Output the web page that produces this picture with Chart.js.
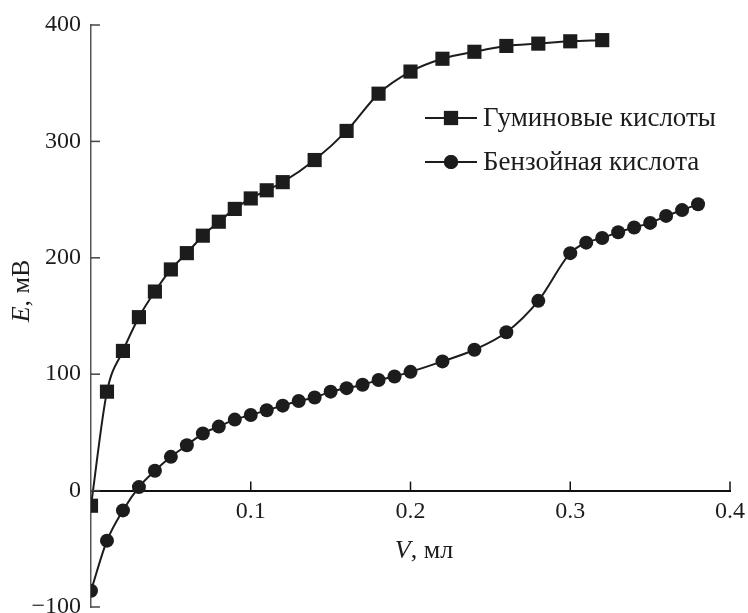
<!DOCTYPE html>
<html>
<head>
<meta charset="utf-8">
<script src="https://cdn.jsdelivr.net/npm/chart.js@4.4.1/dist/chart.umd.min.js"></script>
<style>
  html, body { margin: 0; padding: 0; background: #fff; overflow: hidden; }
  #wrap { width: 748px; height: 617px; }
</style>
</head>
<body>
<div id="wrap"><canvas id="chart"></canvas></div>
<script>
// Гуминовые кислоты
const humicV = [0, 0.01, 0.02, 0.03, 0.04, 0.05, 0.06, 0.07, 0.08, 0.09, 0.10, 0.11, 0.12,
  0.14, 0.16, 0.18, 0.20, 0.22, 0.24, 0.26, 0.28, 0.30, 0.32];
const humicE = [-13, 85, 120, 149, 171, 190, 204, 219, 231, 242, 251, 258, 265,
  284, 309, 341, 360, 371, 377, 382, 384, 386, 387];

// Бензойная кислота
const benzoicV = [0, 0.01, 0.02, 0.03, 0.04, 0.05, 0.06, 0.07, 0.08, 0.09, 0.10, 0.11, 0.12,
  0.13, 0.14, 0.15, 0.16, 0.17, 0.18, 0.19, 0.20, 0.22, 0.24, 0.26, 0.28, 0.30,
  0.31, 0.32, 0.33, 0.34, 0.35, 0.36, 0.37, 0.38];
const benzoicE = [-86, -43, -17, 3, 17, 29, 39, 49, 55, 61, 65, 69, 73,
  77, 80, 85, 88, 91, 95, 98, 102, 111, 121, 136, 163, 204,
  213, 217, 222, 226, 230, 236, 241, 246];

const seriesNames = ["Гуминовые кислоты", "Бензойная кислота"];
const xTicks = [0.1, 0.2, 0.3, 0.4];
const yTicks = [-100, 0, 100, 200, 300, 400];

const serif = "'Liberation Serif', 'DejaVu Serif', serif";
const ink = "#1c1c1c";

function toPoints(xs, ys) {
  return xs.map((x, i) => ({ x, y: ys[i] }));
}

// inward tick marks, legend and axis titles
const decorPlugin = {
  id: "decor",
  afterDraw(chart) {
    const ctx = chart.ctx;
    const xs = chart.scales.x;
    const ys = chart.scales.y;
    const y0 = ys.getPixelForValue(0);
    const left = xs.getPixelForValue(0);

    ctx.save();
    ctx.strokeStyle = "#444";
    ctx.lineWidth = 1.5;
    yTicks.forEach(v => {
      const py = ys.getPixelForValue(v);
      ctx.beginPath();
      ctx.moveTo(left, py);
      ctx.lineTo(left + 9, py);
      ctx.stroke();
    });
    ctx.strokeStyle = "#111";
    xTicks.forEach(v => {
      const px = xs.getPixelForValue(v);
      ctx.beginPath();
      ctx.moveTo(px, y0);
      ctx.lineTo(px, y0 - 9);
      ctx.stroke();
    });

    // legend
    const legendX = 425;
    const legendY = [118, 162];
    chart.data.datasets.forEach((ds, i) => {
      const ly = legendY[i];
      ctx.strokeStyle = ds.borderColor;
      ctx.lineWidth = ds.borderWidth;
      ctx.beginPath();
      ctx.moveTo(legendX, ly);
      ctx.lineTo(legendX + 52, ly);
      ctx.stroke();
      ctx.fillStyle = ds.pointBackgroundColor;
      Chart.helpers.drawPoint(ctx, {
        pointStyle: ds.pointStyle,
        radius: ds.pointRadius,
        borderWidth: 0
      }, legendX + 26, ly);
      ctx.fill();
      ctx.fillStyle = ink;
      ctx.font = "27px " + serif;
      ctx.textAlign = "left";
      ctx.textBaseline = "middle";
      ctx.fillText(ds.label, legendX + 58, ly + 1);
    });

    // axis titles with italic variable letters
    function mixed(parts, cx, cy, rotate) {
      ctx.save();
      ctx.translate(cx, cy);
      if (rotate) ctx.rotate(-Math.PI / 2);
      let total = 0;
      parts.forEach(p => {
        ctx.font = p.f;
        total += ctx.measureText(p.t).width;
      });
      let x = -total / 2;
      ctx.textAlign = "left";
      ctx.textBaseline = "middle";
      ctx.fillStyle = ink;
      parts.forEach(p => {
        ctx.font = p.f;
        ctx.fillText(p.t, x, 0);
        x += ctx.measureText(p.t).width;
      });
      ctx.restore();
    }
    mixed([
      { t: "V", f: "italic 26px " + serif },
      { t: ", мл", f: "26px " + serif }
    ], 424, 551, false);
    mixed([
      { t: "E", f: "italic 26px " + serif },
      { t: ", мВ", f: "26px " + serif }
    ], 22, 291, true);
    ctx.restore();
  }
};

new Chart(document.getElementById("chart"), {
  type: "line",
  data: {
    datasets: [{
      label: seriesNames[0],
      data: toPoints(humicV, humicE),
      borderColor: ink,
      borderWidth: 2,
      pointStyle: "rect",
      pointRadius: 10,
      pointBorderWidth: 0,
      pointBackgroundColor: ink,
      cubicInterpolationMode: "monotone"
    }, {
      label: seriesNames[1],
      data: toPoints(benzoicV, benzoicE),
      borderColor: ink,
      borderWidth: 2,
      pointStyle: "circle",
      pointRadius: 7,
      pointBorderWidth: 0,
      pointBackgroundColor: ink,
      cubicInterpolationMode: "monotone"
    }]
  },
  options: {
    responsive: true,
    maintainAspectRatio: false,
    animation: false,
    layout: { padding: { left: 0, right: 18, top: 25, bottom: 9 } },
    plugins: {
      legend: { display: false },
      tooltip: { enabled: false }
    },
    scales: {
      x: {
        type: "linear",
        min: 0,
        max: 0.4,
        position: { y: 0 },
        grid: { display: false, drawTicks: false },
        border: { display: true, color: "#111", width: 2 },
        afterBuildTicks(scale) {
          scale.ticks = xTicks.map(v => ({ value: v }));
        },
        afterFit(scale) {
          scale.paddingLeft = 0;
          scale.paddingRight = 0;
          scale.paddingBottom = 0;
        },
        ticks: {
          padding: 7,
          color: ink,
          maxRotation: 0,
          font: { family: serif, size: 24 },
          callback: v => v.toFixed(1)
        }
      },
      y: {
        min: -100,
        max: 400,
        grid: { display: false, drawTicks: false },
        border: { display: true, color: "#555", width: 1.5 },
        afterBuildTicks(scale) {
          scale.ticks = yTicks.map(v => ({ value: v }));
        },
        afterFit(scale) {
          scale.width = 91;
          scale.paddingTop = 0;
          scale.paddingBottom = 0;
        },
        ticks: {
          padding: 10,
          color: ink,
          font: { family: serif, size: 24 },
          callback: v => (v < 0 ? "\u2212" + Math.abs(v) : String(v))
        }
      }
    }
  },
  plugins: [decorPlugin]
});
</script>
</body>
</html>
